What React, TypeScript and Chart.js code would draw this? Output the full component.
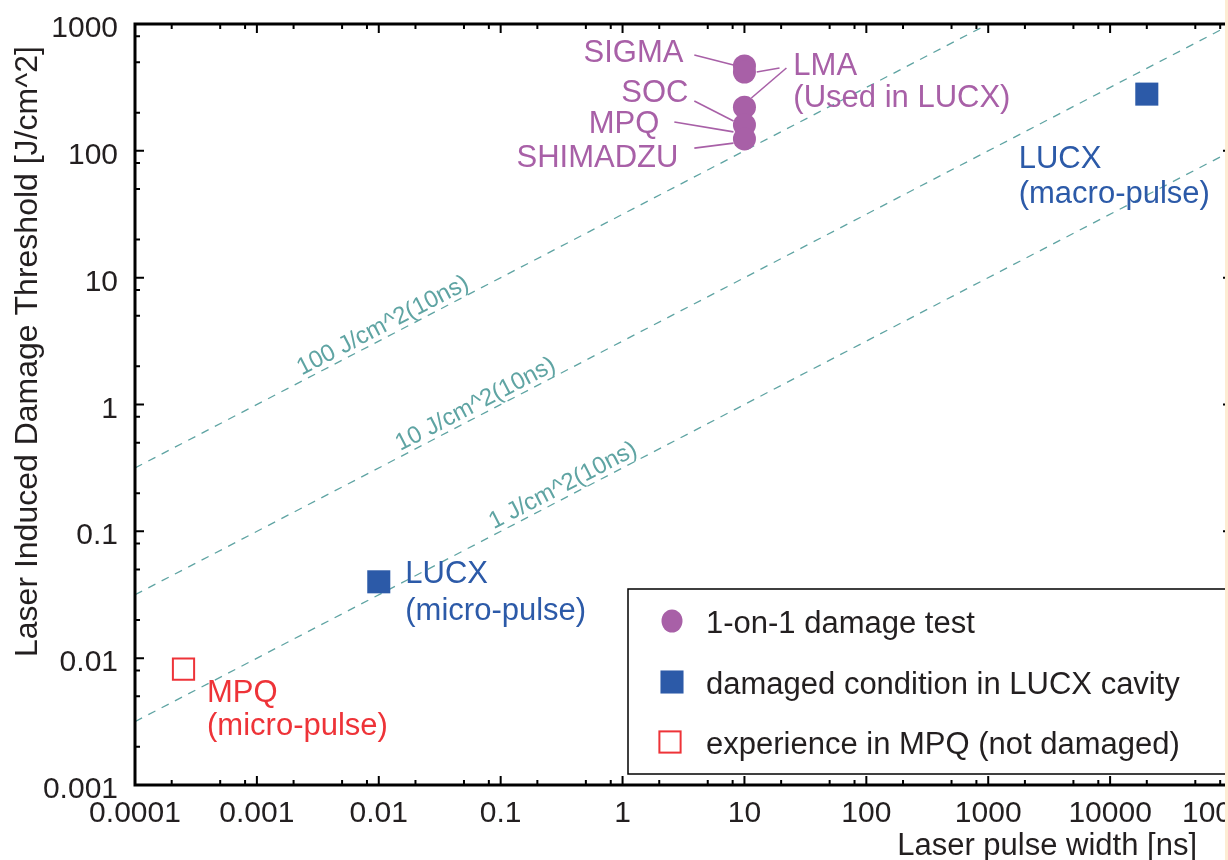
import React, { useEffect, useRef } from 'react';
import { Chart, registerables } from 'chart.js';

Chart.register(...registerables);

// ---------- data ----------
const xTickValues = [1e-4, 1e-3, 1e-2, 1e-1, 1, 10, 100, 1000, 10000, 100000];
const xTickLabels = ['0.0001', '0.001', '0.01', '0.1', '1', '10', '100', '1000', '10000', '100000'];
const yTickValues = [1e-3, 1e-2, 1e-1, 1, 10, 100, 1000];
const yTickLabels = ['0.001', '0.01', '0.1', '1', '10', '100', '1000'];
const minorMultipliers = [2, 5, 8];

const damageTestNames = ['SIGMA', 'LMA', 'SOC', 'MPQ', 'SHIMADZU'];
const damageTestWidth = [10, 10, 10, 10, 10];
const damageTestThreshold = [467, 418, 221, 160, 124];

const lucxNames = ['LUCX (micro-pulse)', 'LUCX (macro-pulse)'];
const lucxWidth = [0.01, 20000];
const lucxThreshold = [0.04, 280];

const mpqNames = ['MPQ (micro-pulse)'];
const mpqWidth = [0.00025];
const mpqThreshold = [0.0082];

const refLineNames = ['100 J/cm^2(10ns)', '10 J/cm^2(10ns)', '1 J/cm^2(10ns)'];
const refLineWidth = [0.0001, 100000];
const refLine100 = [0.316, 10000];
const refLine10 = [0.0316, 1000];
const refLine1 = [0.00316, 100];
const refLabelAtWidth = [0.012, 0.069, 0.36];

// annotation texts (data coordinates)
const annoTexts = ['SIGMA', 'SOC', 'MPQ', 'SHIMADZU', 'LMA', '(Used in LUCX)', 'LUCX', '(macro-pulse)', 'LUCX', '(micro-pulse)', 'MPQ', '(micro-pulse)'];
const annoX = [3.16, 3.47, 2.0, 2.87, 25.2, 25.2, 1778, 1778, 0.0165, 0.0165, 0.00039, 0.00039];
const annoY = [501, 243, 138, 74.5, 396, 221, 73.2, 38.8, 0.039, 0.02, 0.0045, 0.00247];
const annoGroup = ['p', 'p', 'p', 'p', 'p', 'p', 'b', 'b', 'b', 'b', 'r', 'r'];

// leader lines (data coordinates)
const leaderX0 = [3.88, 19.4, 22.1, 3.88, 2.66, 3.88];
const leaderY0 = [570, 450, 450, 247, 169, 105];
const leaderX1 = [8.13, 12.6, 11.4, 8.13, 8.13, 8.13];
const leaderY1 = [475, 418, 261, 172, 141, 115];

// ---------- styles ----------
const PURPLE = '#a860a7';
const BLUE = '#2c5aa8';
const RED = '#ee3338';
const TEAL = '#5fa4a3';
const TEXT = '#231f20';
const FONT = '"Liberation Sans", Arial, sans-serif';

const groupColor: Record<string, string> = { p: PURPLE, b: BLUE, r: RED };

const CANVAS_W = 1300;
const CANVAS_H = 860;

function withMinors(decades: number[]) {
  const out: number[] = [];
  decades.forEach((d, i) => {
    out.push(d);
    if (i < decades.length - 1) minorMultipliers.forEach((m) => out.push(d * m));
  });
  return out;
}

function majorIndex(values: number[], v: number) {
  return values.findIndex((d) => Math.abs(Math.log10(d) - Math.log10(v)) < 1e-6);
}

const overlayPlugin = {
  id: 'overlay',
  afterDatasetsDraw(chart: any) {
    const { ctx, chartArea, scales } = chart;
    const xs = scales.x;
    const ys = scales.y;
    const { left, right, top, bottom } = chartArea;

    // reference line labels
    const refSets = [refLine100, refLine10, refLine1];
    ctx.save();
    ctx.beginPath();
    ctx.rect(left, top, right - left, bottom - top);
    ctx.clip();
    refSets.forEach((ys2, i) => {
      const lx0 = Math.log10(refLineWidth[0]);
      const lx1 = Math.log10(refLineWidth[1]);
      const ly0 = Math.log10(ys2[0]);
      const ly1 = Math.log10(ys2[1]);
      const xv = refLabelAtWidth[i];
      const t = (Math.log10(xv) - lx0) / (lx1 - lx0);
      const yv = Math.pow(10, ly0 + t * (ly1 - ly0));
      const px = xs.getPixelForValue(xv);
      const py = ys.getPixelForValue(yv);
      const ax = xs.getPixelForValue(refLineWidth[1]) - xs.getPixelForValue(refLineWidth[0]);
      const ay = ys.getPixelForValue(ys2[1]) - ys.getPixelForValue(ys2[0]);
      const ang = Math.atan2(ay, ax);
      ctx.save();
      ctx.translate(px, py);
      ctx.rotate(ang);
      ctx.font = `24px ${FONT}`;
      ctx.fillStyle = TEAL;
      ctx.textAlign = 'center';
      ctx.textBaseline = 'alphabetic';
      ctx.fillText(refLineNames[i], 0, -5);
      ctx.restore();
    });
    ctx.restore();

    // leader lines
    ctx.save();
    ctx.strokeStyle = PURPLE;
    ctx.lineWidth = 1.6;
    leaderX0.forEach((_, i) => {
      ctx.beginPath();
      ctx.moveTo(xs.getPixelForValue(leaderX0[i]), ys.getPixelForValue(leaderY0[i]));
      ctx.lineTo(xs.getPixelForValue(leaderX1[i]), ys.getPixelForValue(leaderY1[i]));
      ctx.stroke();
    });
    ctx.restore();

    // annotation texts
    ctx.save();
    ctx.font = `31px ${FONT}`;
    ctx.textBaseline = 'alphabetic';
    annoTexts.forEach((txt, i) => {
      const g = annoGroup[i];
      const alignRight = g === 'p' && i < 4;
      ctx.textAlign = alignRight ? 'right' : 'left';
      ctx.fillStyle = groupColor[g];
      ctx.fillText(txt, xs.getPixelForValue(annoX[i]), ys.getPixelForValue(annoY[i]));
    });
    ctx.restore();

    // frame
    ctx.save();
    ctx.strokeStyle = '#000';
    ctx.lineWidth = 3;
    ctx.strokeRect(left, top, right - left, bottom - top);
    // ticks + labels
    ctx.lineWidth = 2;
    ctx.font = `30px ${FONT}`;
    ctx.fillStyle = TEXT;
    xs.ticks.forEach((tk: any) => {
      const px = xs.getPixelForValue(tk.value);
      const mi = majorIndex(xTickValues, tk.value);
      const len = mi >= 0 ? 9 : 5;
      ctx.beginPath();
      ctx.moveTo(px, bottom);
      ctx.lineTo(px, bottom - len);
      ctx.moveTo(px, top);
      ctx.lineTo(px, top + len);
      ctx.stroke();
      if (mi >= 0) {
        ctx.textAlign = 'center';
        ctx.textBaseline = 'alphabetic';
        ctx.fillText(xTickLabels[mi], px, bottom + 37);
      }
    });
    ys.ticks.forEach((tk: any) => {
      const py = ys.getPixelForValue(tk.value);
      const mi = majorIndex(yTickValues, tk.value);
      const len = mi >= 0 ? 9 : 5;
      ctx.beginPath();
      ctx.moveTo(left, py);
      ctx.lineTo(left + len, py);
      ctx.moveTo(right, py);
      ctx.lineTo(right - len, py);
      ctx.stroke();
      if (mi >= 0) {
        ctx.textAlign = 'right';
        ctx.textBaseline = 'alphabetic';
        ctx.fillText(yTickLabels[mi], left - 17, py + 13);
      }
    });
    ctx.restore();

    // legend
    const lgLeft = 628;
    const lgTop = 589;
    const lgBottom = 774;
    ctx.save();
    ctx.fillStyle = '#fff';
    ctx.fillRect(lgLeft, lgTop, CANVAS_W - lgLeft, lgBottom - lgTop);
    ctx.strokeStyle = '#000';
    ctx.lineWidth = 1.5;
    ctx.strokeRect(lgLeft, lgTop, CANVAS_W - lgLeft + 20, lgBottom - lgTop);
    const rowsY = [621, 682, 742];
    const markerX = 672;
    const textX = 706;
    ctx.font = `31px ${FONT}`;
    ctx.textAlign = 'left';
    ctx.textBaseline = 'alphabetic';
    chart.data.datasets.slice(0, 3).forEach((ds: any, i: number) => {
      const cy = rowsY[i];
      ctx.save();
      if (ds.pointStyle === 'circle') {
        ctx.fillStyle = ds.backgroundColor;
        ctx.beginPath();
        ctx.ellipse(markerX, cy, 10.5, 11.5, 0, 0, Math.PI * 2);
        ctx.fill();
      } else {
        const s = Math.SQRT1_2 * ds.pointRadius;
        if (ds.borderWidth > 0) {
          ctx.strokeStyle = ds.borderColor;
          ctx.lineWidth = ds.borderWidth;
          ctx.strokeRect(markerX - s - 2, cy - s, 2 * s, 2 * s);
        } else {
          ctx.fillStyle = ds.backgroundColor;
          ctx.fillRect(markerX - s, cy - s, 2 * s, 2 * s);
        }
      }
      ctx.restore();
      ctx.fillStyle = TEXT;
      ctx.fillText(ds.label, textX, cy + 12);
    });
    ctx.restore();

    // axis titles
    ctx.save();
    ctx.fillStyle = TEXT;
    ctx.font = `31px ${FONT}`;
    ctx.textAlign = 'right';
    ctx.textBaseline = 'alphabetic';
    ctx.fillText('Laser pulse width [ns]', right - 35, bottom + 70);
    ctx.translate(37, 657);
    ctx.rotate(-Math.PI / 2);
    ctx.font = `32px ${FONT}`;
    ctx.textAlign = 'left';
    ctx.fillText('Laser Induced Damage Threshold [J/cm^2]', 0, 0);
    ctx.restore();
  },
};

export default function App() {
  const ref = useRef<HTMLCanvasElement | null>(null);

  useEffect(() => {
    if (!ref.current) return;
    const refLine = (label: string, vals: number[]) => ({
      type: 'line' as const,
      label,
      data: refLineWidth.map((x, i) => ({ x, y: vals[i] })),
      borderColor: TEAL,
      borderWidth: 1.3,
      borderDash: [8, 7],
      pointRadius: 0,
      fill: false,
      order: 10,
    });
    const chart = new Chart(ref.current, {
      type: 'scatter',
      data: {
        datasets: [
          {
            label: '1-on-1 damage test',
            data: damageTestWidth.map((x, i) => ({ x, y: damageTestThreshold[i], name: damageTestNames[i] })),
            pointStyle: 'circle',
            pointRadius: 11.5,
            backgroundColor: PURPLE,
            borderWidth: 0,
            order: 1,
          } as any,
          {
            label: 'damaged condition in LUCX cavity',
            data: lucxWidth.map((x, i) => ({ x, y: lucxThreshold[i], name: lucxNames[i] })),
            pointStyle: 'rect',
            pointRadius: 16.3,
            backgroundColor: BLUE,
            borderWidth: 0,
            order: 1,
          } as any,
          {
            label: 'experience in MPQ (not damaged)',
            data: mpqWidth.map((x, i) => ({ x, y: mpqThreshold[i], name: mpqNames[i] })),
            pointStyle: 'rect',
            pointRadius: 15,
            backgroundColor: 'rgba(255,255,255,0)',
            borderColor: RED,
            borderWidth: 2,
            order: 1,
          } as any,
          refLine(refLineNames[0], refLine100) as any,
          refLine(refLineNames[1], refLine10) as any,
          refLine(refLineNames[2], refLine1) as any,
        ],
      },
      options: {
        responsive: false,
        animation: false,
        devicePixelRatio: 1,
        events: [],
        layout: { padding: { top: 24, right: CANVAS_W - 1232, left: 0, bottom: 0 } },
        plugins: { legend: { display: false }, tooltip: { enabled: false } },
        scales: {
          x: {
            type: 'logarithmic',
            min: 1e-4,
            max: 1e5,
            grid: { display: false, drawTicks: false },
            border: { display: false },
            afterBuildTicks: (s: any) => {
              s.ticks = withMinors(xTickValues).map((v) => ({ value: v }));
            },
            afterFit: (s: any) => {
              s.height = 75;
            },
            ticks: { display: false },
          },
          y: {
            type: 'logarithmic',
            min: 1e-3,
            max: 1e3,
            grid: { display: false, drawTicks: false },
            border: { display: false },
            afterBuildTicks: (s: any) => {
              s.ticks = withMinors(yTickValues).map((v) => ({ value: v }));
            },
            afterFit: (s: any) => {
              s.width = 135;
            },
            ticks: { display: false },
          },
        },
      },
      plugins: [overlayPlugin],
    });
    return () => chart.destroy();
  }, []);

  return (
    <div
      style={{
        position: 'fixed',
        left: 0,
        top: 0,
        width: 1228,
        height: 860,
        overflow: 'hidden',
        background: '#fff',
      }}
    >
      <canvas
        ref={ref}
        width={CANVAS_W}
        height={CANVAS_H}
        style={{ position: 'absolute', left: 0, top: 0, width: CANVAS_W, height: CANVAS_H }}
      />
      <div
        style={{ position: 'absolute', left: 1225, top: 0, width: 3, height: 860, background: '#fdecd3' }}
      />
    </div>
  );
}
